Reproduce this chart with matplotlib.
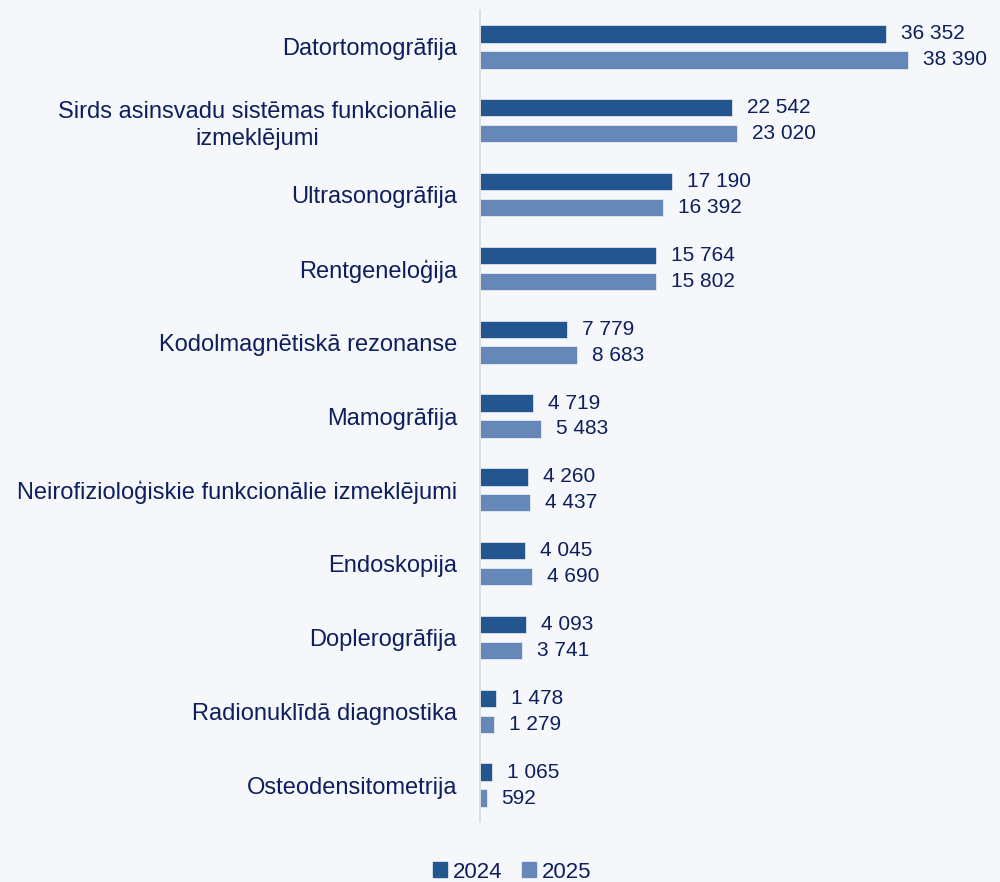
import matplotlib
matplotlib.use("Agg")
import matplotlib.pyplot as plt
from matplotlib.patches import Patch

categories = [
    "Datortomogrāfija",
    "Sirds asinsvadu sistēmas funkcionālie\nizmeklējumi",
    "Ultrasonogrāfija",
    "Rentgeneloģija",
    "Kodolmagnētiskā rezonanse",
    "Mamogrāfija",
    "Neirofizioloģiskie funkcionālie izmeklējumi",
    "Endoskopija",
    "Doplerogrāfija",
    "Radionuklīdā diagnostika",
    "Osteodensitometrija",
]
values_2024 = [36352, 22542, 17190, 15764, 7779, 4719, 4260, 4045, 4093, 1478, 1065]
values_2025 = [38390, 23020, 16392, 15802, 8683, 5483, 4437, 4690, 3741, 1279, 592]
series_names = ["2024", "2025"]

bg = "#f5f7fb"
c1 = "#23558f"
c2 = "#6688b8"
txt = "#0d1f5c"

plt.rcParams['font.family'] = ['Liberation Sans', 'DejaVu Sans']

fig = plt.figure(figsize=(10, 8.82), dpi=100, facecolor=bg)
W, H = 1000, 882
left, right, top, bottom = 480, 940, 10, 822
ax = fig.add_axes([left / W, 1 - bottom / H, (right - left) / W, (bottom - top) / H])
ax.set_facecolor(bg)

n = len(categories)
ys = list(range(n))
bh = 0.235
off = 0.175
ax.barh([y - off for y in ys], values_2024, height=bh, color=c1, edgecolor='white', linewidth=0.4)
ax.barh([y + off for y in ys], values_2025, height=bh, color=c2, edgecolor='white', linewidth=0.4)

scale = 0.01116  # px per unit
ax.set_xlim(0, (right - left) / scale)
ax.set_ylim(n - 0.5, -0.5)

def fmt(v):
    return f"{v:,}".replace(",", " ")

for y, v in zip(ys, values_2024):
    ax.annotate(fmt(v), (v, y - off), xytext=(15, 0), textcoords='offset pixels',
                va='center', ha='left', fontsize=15, color=txt, annotation_clip=False)
for y, v in zip(ys, values_2025):
    ax.annotate(fmt(v), (v, y + off), xytext=(15, 0), textcoords='offset pixels',
                va='center', ha='left', fontsize=15, color=txt, annotation_clip=False)

ax.set_yticks(ys)
ax.set_yticklabels(categories, fontsize=17, color=txt, linespacing=1.3,
                   multialignment='center')
ax.tick_params(axis='y', length=0, pad=16.5)
ax.set_xticks([])
for s in ['top', 'right', 'bottom']:
    ax.spines[s].set_visible(False)
ax.spines['left'].set_color('#d9d9d9')
ax.spines['left'].set_linewidth(1.2)

handles = [Patch(color=c1), Patch(color=c2)]
fig.legend(handles, series_names, loc='center', bbox_to_anchor=(512 / W, 1 - 872 / H),
           ncol=2, frameon=False, fontsize=16, handlelength=0.62, handleheight=0.62,
           handletextpad=0.27, columnspacing=0.9, labelcolor=txt, borderpad=0)

fig.savefig("out.png", dpi=100, facecolor=bg)
